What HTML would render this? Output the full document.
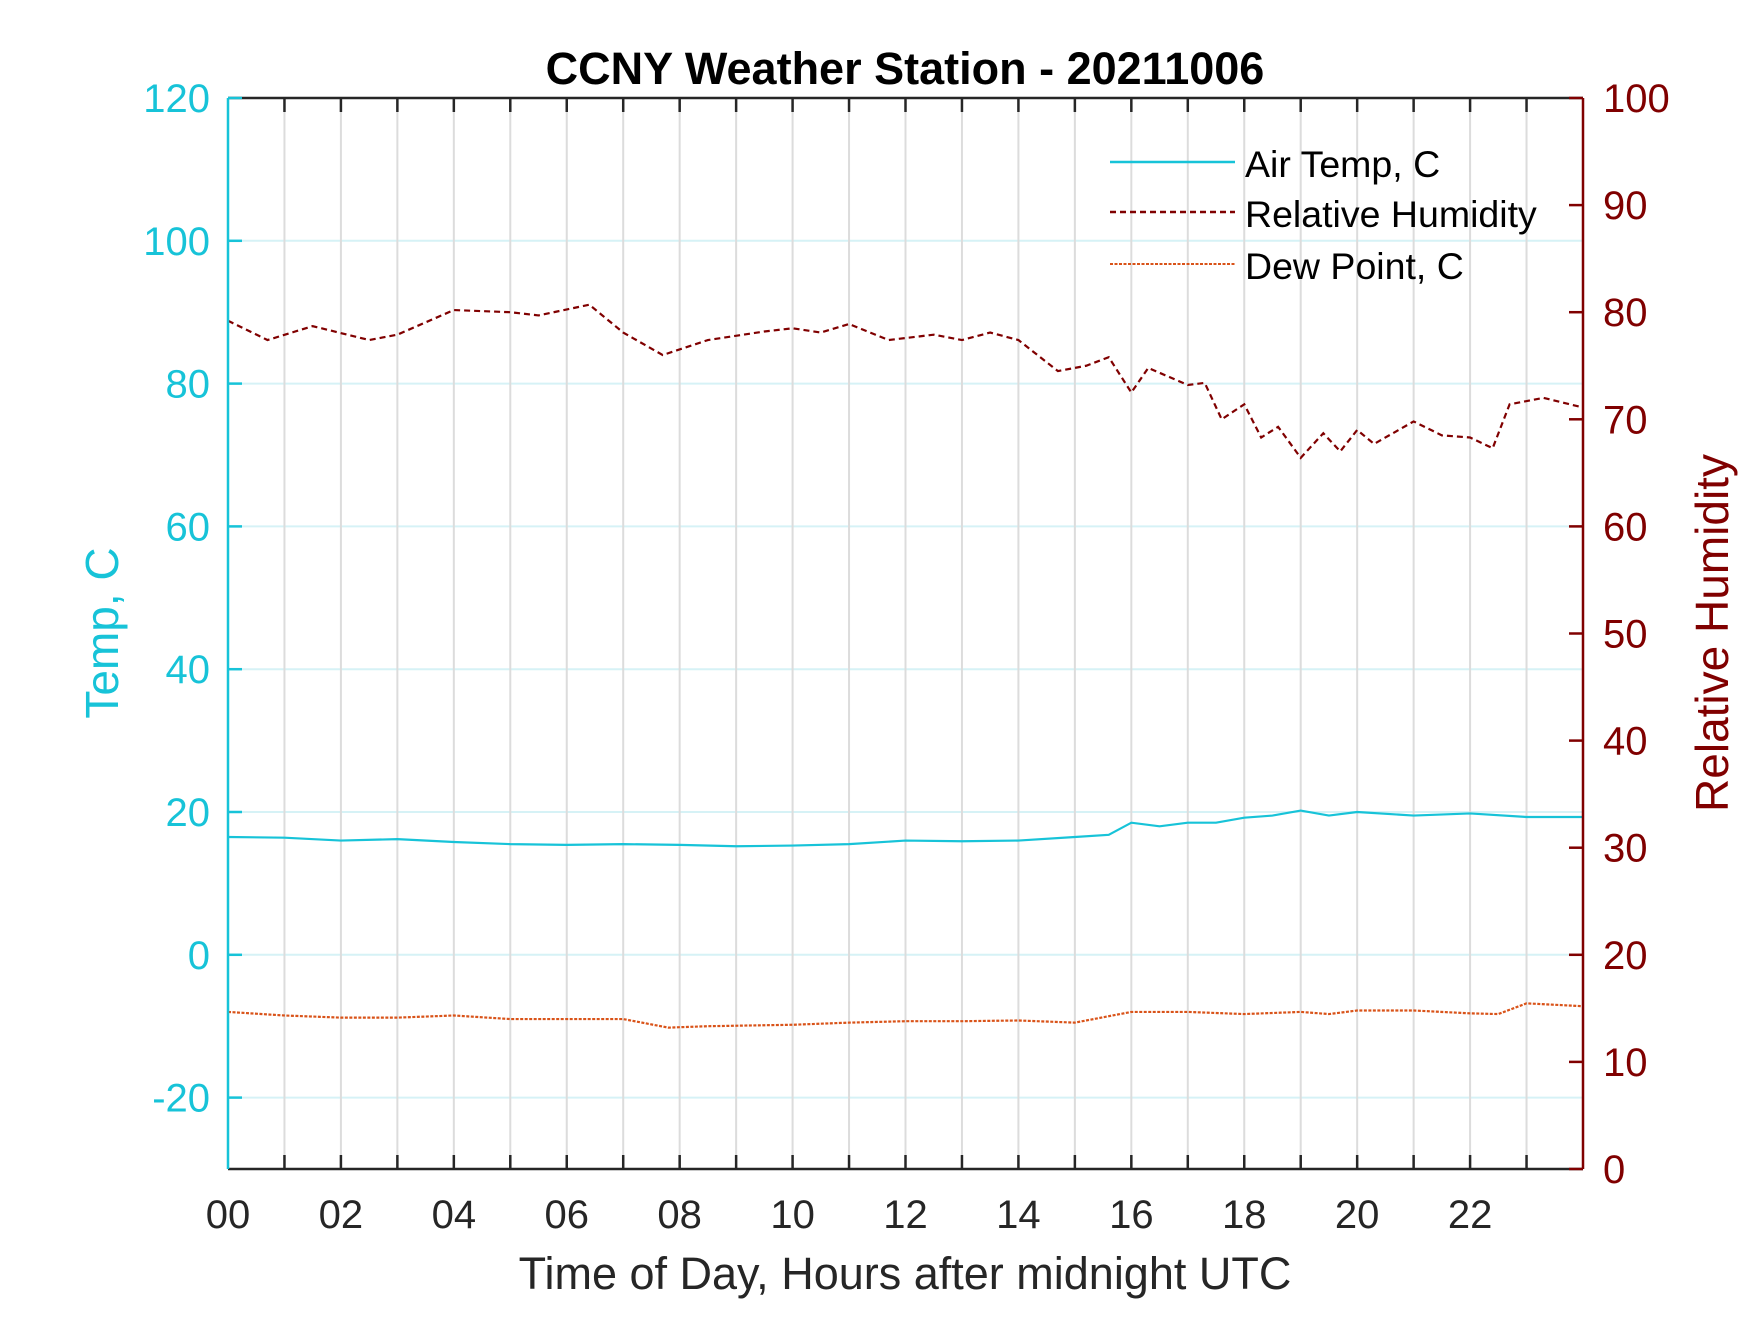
<!DOCTYPE html>
<html><head><meta charset="utf-8"><style>
body{margin:0;background:#fff}
svg text{font-family:"Liberation Sans",Arial,sans-serif}
</style></head><body>
<svg id="chart" width="1750" height="1313" viewBox="0 0 1750 1313" xmlns="http://www.w3.org/2000/svg">
<rect width="1750" height="1313" fill="#fff"/>
<g id="grid"></g>
<g id="series"></g>
<g id="axes"></g>
<text x="905" y="84" text-anchor="middle" font-size="45" font-weight="bold" fill="#000">CCNY Weather Station - 20211006</text>
<text x="905" y="1289" text-anchor="middle" font-size="45" fill="#262626">Time of Day, Hours after midnight UTC</text>
<text transform="translate(118,633) rotate(-90)" text-anchor="middle" font-size="46" fill="#17c3d8">Temp, C</text>
<text transform="translate(1728,633) rotate(-90)" text-anchor="middle" font-size="46" fill="#800000">Relative Humidity</text>
<g>
<line x1="1110" y1="162" x2="1235" y2="162" stroke="#17c3d8" stroke-width="2.5"/>
<text x="1245" y="177" font-size="37.5" fill="#000">Air Temp, C</text>
<line x1="1110" y1="212" x2="1235" y2="212" stroke="#800000" stroke-width="2.5" stroke-dasharray="6,4"/>
<text x="1245" y="227" font-size="37.5" fill="#000">Relative Humidity</text>
<line x1="1110" y1="264" x2="1235" y2="264" stroke="#d95319" stroke-width="2" stroke-dasharray="3,1.5"/>
<text x="1245" y="279" font-size="37.5" fill="#000">Dew Point, C</text>
</g>
</svg>
<script>
const tempHours=[0,1,2,3,4,5,6,7,8,9,10,11,12,13,14,15,15.6,16,16.5,17,17.5,18,18.5,19,19.5,20,21,22,23,24];
const tempVals=[16.5,16.4,16,16.2,15.8,15.5,15.4,15.5,15.4,15.2,15.3,15.5,16,15.9,16,16.5,16.8,18.5,18,18.5,18.5,19.2,19.5,20.2,19.5,20,19.5,19.8,19.3,19.3];
const dewHours=[0,1,2,3,4,5,6,7,7.8,8.5,10,11,12,13,14,15,16,17,18,19,19.5,20,21,22,22.5,23,24];
const dewVals=[-8,-8.5,-8.8,-8.8,-8.5,-9,-9,-9,-10.2,-10,-9.8,-9.5,-9.3,-9.3,-9.2,-9.5,-8,-8,-8.3,-8,-8.3,-7.8,-7.8,-8.2,-8.3,-6.8,-7.2];
const rhHours=[0,0.7,1.5,2.5,3,4,5,5.5,6.4,7,7.7,8.5,9.5,10,10.5,11,11.7,12.5,13,13.5,14,14.7,15.2,15.6,16,16.3,17,17.3,17.6,18,18.3,18.6,19,19.4,19.7,20,20.3,21,21.5,22,22.4,22.7,23.3,24];
const rhVals=[79.2,77.4,78.7,77.4,77.9,80.2,80,79.7,80.7,78.1,76,77.4,78.2,78.5,78.1,78.9,77.4,77.9,77.4,78.1,77.4,74.5,75,75.8,72.5,74.8,73.2,73.4,70,71.4,68.3,69.3,66.4,68.7,67,69,67.7,69.8,68.5,68.3,67.3,71.4,72,71.1];
const xTicks=["00","02","04","06","08","10","12","14","16","18","20","22"];
const leftTicks=[-20,0,20,40,60,80,100,120];
const rightTicks=[0,10,20,30,40,50,60,70,80,90,100];

const X0=228,X1=1583,Y0=98,Y1=1169;
const xs=h=>X0+(X1-X0)*h/24;
const yl=v=>Y1-(Y1-Y0)*(v+30)/150;
const yr=v=>Y1-(Y1-Y0)*v/100;
const NS="http://www.w3.org/2000/svg";
function mk(tag,attrs,parent){const e=document.createElementNS(NS,tag);for(const k in attrs)e.setAttribute(k,attrs[k]);parent.appendChild(e);return e;}
const grid=document.getElementById('grid'),axes=document.getElementById('axes'),series=document.getElementById('series');
for(const v of leftTicks){const l=mk('line',{x1:X0,x2:X1,y1:yl(v),y2:yl(v),stroke:'#d6f2f6','stroke-width':2},grid);

}
for(let h=1;h<24;h++){const l=mk('line',{x1:xs(h),x2:xs(h),y1:Y0,y2:Y1,stroke:'#dcdcdc','stroke-width':2},grid);

}
function line(hs,vs,yf,color,dash,name){const p=mk('polyline',{points:hs.map((h,i)=>xs(h)+','+yf(vs[i])).join(' '),fill:'none',stroke:color,'stroke-width':2.2,'stroke-dasharray':dash},series);

}
line(tempHours,tempVals,yl,'#17c3d8','none','air-temp-line');
line(rhHours,rhVals,yr,'#800000','6,4','rh-line');
line(dewHours,dewVals,yl,'#d95319','3,1.5','dew-point-line');
mk('line',{x1:X0,x2:X1,y1:Y0,y2:Y0,stroke:'#262626','stroke-width':2.5},axes);
mk('line',{x1:X0,x2:X1,y1:Y1,y2:Y1,stroke:'#262626','stroke-width':2.5},axes);
mk('line',{x1:X0,x2:X0,y1:Y0,y2:Y1,stroke:'#17c3d8','stroke-width':2.5},axes);
mk('line',{x1:X1,x2:X1,y1:Y0,y2:Y1,stroke:'#800000','stroke-width':2.5},axes);
for(let h=1;h<24;h++){mk('line',{x1:xs(h),x2:xs(h),y1:Y1,y2:Y1-14,stroke:'#262626','stroke-width':2.5},axes);mk('line',{x1:xs(h),x2:xs(h),y1:Y0,y2:Y0+14,stroke:'#262626','stroke-width':2.5},axes);}
xTicks.forEach((t,i)=>{const e=mk('text',{x:xs(i*2),y:1228,'text-anchor':'middle','font-size':40,fill:'#262626'},axes);e.textContent=t;

});
leftTicks.forEach(v=>{mk('line',{x1:X0,x2:X0+14,y1:yl(v),y2:yl(v),stroke:'#17c3d8','stroke-width':2.5},axes);
const e=mk('text',{x:210,y:yl(v)+14,'text-anchor':'end','font-size':40,fill:'#17c3d8'},axes);e.textContent=v;

});
rightTicks.forEach(v=>{mk('line',{x1:X1,x2:X1-14,y1:yr(v),y2:yr(v),stroke:'#800000','stroke-width':2.5},axes);
const e=mk('text',{x:1603,y:yr(v)+14,'text-anchor':'start','font-size':40,fill:'#800000'},axes);e.textContent=v;

});
</script>
</body></html>
